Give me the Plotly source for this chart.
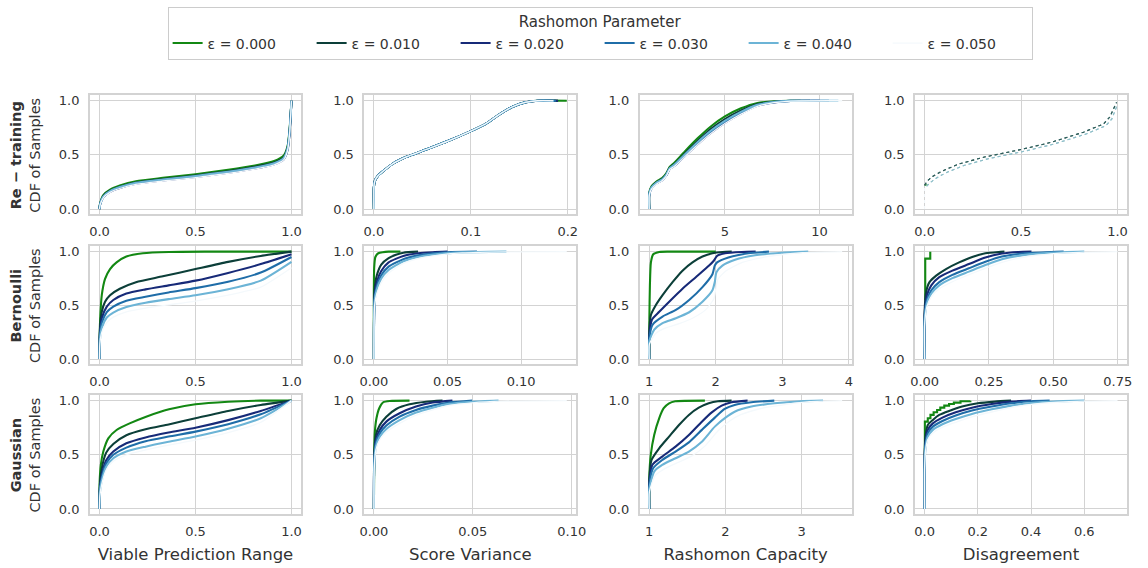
import plotly.graph_objects as go

EPS_LABELS = ["ε = 0.000", "ε = 0.010", "ε = 0.020", "ε = 0.030", "ε = 0.040", "ε = 0.050"]
ROW_NAMES = ["Re − training", "Bernoulli", "Gaussian"]
COL_NAMES = ["Viable Prediction Range", "Score Variance", "Rashomon Capacity", "Disagreement"]

# ---------------- Re-training ----------------
RT_VPR_X = [
    [0, 0.003, 0.02, 0.055, 0.106, 0.19, 0.33, 0.5, 0.67, 0.81, 0.91, 0.96, 0.98, 0.99, 1.0],
] * 6
RT_VPR_Y = [
    [0, 0.05, 0.13, 0.18, 0.217, 0.257, 0.288, 0.322, 0.362, 0.402, 0.443, 0.495, 0.585, 0.735, 1.0],
    [0, 0.046, 0.12, 0.17, 0.206, 0.246, 0.277, 0.31, 0.35, 0.39, 0.43, 0.48, 0.57, 0.72, 1.0],
    [0, 0.04, 0.11, 0.16, 0.195, 0.233, 0.264, 0.296, 0.335, 0.374, 0.413, 0.46, 0.548, 0.698, 1.0],
    [0, 0.042, 0.113, 0.163, 0.199, 0.238, 0.269, 0.301, 0.34, 0.379, 0.419, 0.467, 0.555, 0.705, 1.0],
    [0, 0.044, 0.116, 0.166, 0.203, 0.242, 0.273, 0.306, 0.345, 0.384, 0.424, 0.473, 0.562, 0.712, 1.0],
    [0, 0.037, 0.104, 0.154, 0.19, 0.228, 0.259, 0.291, 0.33, 0.369, 0.408, 0.455, 0.543, 0.693, 1.0],
]
RT_SV_X = [
    [0, 0.0, 0.001, 0.0044, 0.0095, 0.0197, 0.033, 0.054, 0.077, 0.1, 0.115, 0.128, 0.142, 0.156, 0.169, 0.199],
    [0, 0.0, 0.001, 0.0044, 0.0095, 0.0197, 0.033, 0.054, 0.077, 0.1, 0.115, 0.128, 0.142, 0.156, 0.169, 0.19],
    [0, 0.0, 0.001, 0.0044, 0.0095, 0.0197, 0.033, 0.054, 0.077, 0.1, 0.115, 0.128, 0.142, 0.156, 0.169, 0.19],
    [0, 0.0, 0.001, 0.0044, 0.0095, 0.0197, 0.033, 0.054, 0.077, 0.1, 0.115, 0.128, 0.142, 0.156, 0.169, 0.188],
    [0, 0.0, 0.001, 0.0044, 0.0095, 0.0197, 0.033, 0.054, 0.077, 0.1, 0.115, 0.128, 0.142, 0.156, 0.169, 0.186],
    [0, 0.0, 0.001, 0.0044, 0.0095, 0.0197, 0.033, 0.054, 0.077, 0.1, 0.115, 0.128, 0.142, 0.156, 0.169, 0.185],
]
RT_SV_Y = [
    [0, 0.2, 0.26, 0.31, 0.35, 0.42, 0.48, 0.55, 0.63, 0.72, 0.785, 0.865, 0.94, 0.985, 1.0, 1.0],
] * 6
RT_RC_X = [
    [1.0, 1.0, 1.12, 1.38, 1.68, 1.9, 2.08, 2.34, 2.87, 3.57, 4.27, 5.0, 5.85, 6.72, 7.6, 8.47, 9.0],
    [1.0, 1.0, 1.12, 1.38, 1.68, 1.9, 2.08, 2.34, 2.87, 3.57, 4.27, 5.0, 5.85, 6.72, 7.6, 8.47, 9.5],
    [1.0, 1.0, 1.12, 1.38, 1.68, 1.9, 2.08, 2.34, 2.87, 3.57, 4.27, 5.0, 5.85, 6.72, 7.6, 8.47, 10.0],
    [1.0, 1.0, 1.12, 1.38, 1.68, 1.9, 2.08, 2.34, 2.87, 3.57, 4.27, 5.0, 5.85, 6.72, 7.6, 8.47, 10.5],
    [1.0, 1.0, 1.12, 1.38, 1.68, 1.9, 2.08, 2.34, 2.87, 3.57, 4.27, 5.0, 5.85, 6.72, 7.6, 8.47, 11.0],
    [1.0, 1.0, 1.12, 1.38, 1.68, 1.9, 2.08, 2.34, 2.87, 3.57, 4.27, 5.0, 5.85, 6.72, 7.6, 8.47, 11.2],
]
RT_RC_Y = [
    [0, 0.15, 0.21, 0.255, 0.287, 0.33, 0.39, 0.43, 0.53, 0.655, 0.765, 0.855, 0.93, 0.98, 0.995, 1.0, 1.0],
    [0, 0.14, 0.2, 0.246, 0.277, 0.32, 0.38, 0.415, 0.51, 0.63, 0.74, 0.83, 0.91, 0.97, 0.99, 1.0, 1.0],
    [0, 0.13, 0.19, 0.236, 0.267, 0.31, 0.37, 0.40, 0.488, 0.602, 0.706, 0.796, 0.882, 0.953, 0.984, 0.998, 1.0],
    [0, 0.135, 0.195, 0.24, 0.27, 0.313, 0.373, 0.405, 0.495, 0.612, 0.717, 0.807, 0.89, 0.958, 0.987, 0.999, 1.0],
    [0, 0.138, 0.198, 0.243, 0.273, 0.316, 0.376, 0.41, 0.502, 0.62, 0.725, 0.815, 0.897, 0.962, 0.988, 0.999, 1.0],
    [0, 0.125, 0.185, 0.23, 0.262, 0.305, 0.365, 0.395, 0.482, 0.596, 0.7, 0.79, 0.876, 0.949, 0.982, 0.997, 1.0],
]
RT_DIS_X = [
    [0, 0.02],
    [0, 0.014, 0.04, 0.09, 0.176, 0.31, 0.5, 0.654, 0.824, 0.927, 0.96, 0.995],
    [0, 0.014, 0.04, 0.09, 0.176, 0.31, 0.5, 0.654, 0.824, 0.927, 0.96, 0.995],
    [0.01, 0.03, 0.06, 0.11, 0.2, 0.33, 0.52, 0.67, 0.84, 0.94, 0.97, 1.0],
    [0.01, 0.03, 0.06, 0.11, 0.2, 0.33, 0.52, 0.67, 0.84, 0.94, 0.97, 1.0],
    [0, 0, 0.01],
]
RT_DIS_Y = [
    [0.22, 0.225],
    [0.22, 0.26, 0.30, 0.35, 0.415, 0.48, 0.55, 0.615, 0.71, 0.785, 0.85, 0.985],
    [0.22, 0.26, 0.30, 0.35, 0.415, 0.48, 0.55, 0.615, 0.71, 0.785, 0.85, 0.985],
    [0.21, 0.245, 0.285, 0.335, 0.40, 0.465, 0.535, 0.6, 0.695, 0.77, 0.83, 0.965],
    [0.21, 0.245, 0.285, 0.335, 0.40, 0.465, 0.535, 0.6, 0.695, 0.77, 0.83, 0.965],
    [0, 0.21, 0.21],
]

# ---------------- Bernoulli ----------------
BE_VPR_X = [
    [0, 0.001, 0.003, 0.012, 0.029, 0.055, 0.089, 0.14, 0.226, 0.362, 0.55, 1.0],
    [0, 0.002, 0.012, 0.029, 0.055, 0.106, 0.19, 0.33, 0.5, 0.67, 0.84, 1.0],
    [0, 0.002, 0.012, 0.038, 0.072, 0.14, 0.24, 0.36, 0.5, 0.67, 0.84, 1.0],
    [0, 0.002, 0.012, 0.038, 0.072, 0.14, 0.24, 0.36, 0.5, 0.67, 0.84, 1.0],
    [0, 0.002, 0.012, 0.038, 0.072, 0.14, 0.24, 0.36, 0.5, 0.67, 0.84, 1.0],
    [0, 0.002, 0.012, 0.038, 0.072, 0.14, 0.24, 0.36, 0.5, 0.67, 0.84, 1.0],
]
BE_VPR_Y = [
    [0, 0.2, 0.35, 0.595, 0.747, 0.838, 0.9, 0.954, 0.985, 0.997, 1.0, 1.0],
    [0, 0.26, 0.44, 0.534, 0.595, 0.655, 0.716, 0.77, 0.838, 0.905, 0.96, 1.0],
    [0, 0.23, 0.38, 0.488, 0.55, 0.61, 0.649, 0.686, 0.73, 0.802, 0.884, 0.976],
    [0, 0.2, 0.335, 0.436, 0.488, 0.543, 0.58, 0.62, 0.66, 0.72, 0.805, 0.95],
    [0, 0.17, 0.29, 0.387, 0.433, 0.485, 0.524, 0.558, 0.594, 0.65, 0.73, 0.905],
    [0, 0.14, 0.25, 0.34, 0.39, 0.44, 0.475, 0.505, 0.54, 0.595, 0.67, 0.85],
]
BE_SV_X = [
    [0, 0.0002, 0.001, 0.003, 0.006, 0.01, 0.018],
    [0, 0.0005, 0.002, 0.005, 0.01, 0.015, 0.02, 0.03],
    [0, 0.0005, 0.002, 0.005, 0.01, 0.02, 0.03, 0.04, 0.05],
    [0, 0.0005, 0.002, 0.005, 0.01, 0.02, 0.03, 0.04, 0.05, 0.07],
    [0, 0.0005, 0.002, 0.005, 0.01, 0.02, 0.03, 0.045, 0.06, 0.09],
    [0, 0.0005, 0.002, 0.005, 0.01, 0.02, 0.03, 0.045, 0.06, 0.09, 0.131],
]
BE_SV_Y = [
    [0, 0.85, 0.95, 0.985, 0.995, 1.0, 1.0],
    [0, 0.65, 0.78, 0.88, 0.94, 0.97, 0.99, 1.0],
    [0, 0.6, 0.72, 0.82, 0.9, 0.96, 0.985, 0.995, 1.0],
    [0, 0.57, 0.68, 0.78, 0.86, 0.93, 0.965, 0.985, 0.995, 1.0],
    [0, 0.54, 0.65, 0.75, 0.83, 0.91, 0.95, 0.98, 0.993, 1.0],
    [0, 0.5, 0.61, 0.71, 0.8, 0.89, 0.935, 0.97, 0.988, 0.998, 1.0],
]
BE_RC_X = [
    [1.0, 1.002, 1.01, 1.025, 1.06, 1.15, 1.3, 2.0],
    [1.0, 1.003, 1.025, 1.1, 1.2, 1.35, 1.5, 1.65, 1.8, 1.95, 2.1, 2.24],
    [1.0, 1.003, 1.04, 1.15, 1.3, 1.5, 1.7, 1.9, 1.97, 2.02, 2.14, 2.39, 2.6],
    [1.0, 1.003, 1.05, 1.2, 1.4, 1.6, 1.8, 1.95, 1.985, 2.02, 2.19, 2.49, 2.8],
    [1.0, 1.003, 1.075, 1.2, 1.4, 1.6, 1.8, 1.95, 1.985, 2.01, 2.1, 2.29, 2.59, 2.99, 3.39],
    [1.0, 1.003, 1.1, 1.25, 1.45, 1.65, 1.85, 1.97, 2.0, 2.03, 2.15, 2.4, 2.8, 3.3, 3.9],
]
BE_RC_Y = [
    [0, 0.38, 0.686, 0.9, 0.976, 0.997, 1.0, 1.0],
    [0, 0.29, 0.41, 0.503, 0.595, 0.716, 0.823, 0.9, 0.954, 0.985, 0.997, 1.0],
    [0, 0.23, 0.366, 0.44, 0.534, 0.655, 0.762, 0.87, 0.915, 0.96, 0.985, 0.997, 1.0],
    [0, 0.2, 0.32, 0.396, 0.457, 0.55, 0.67, 0.79, 0.87, 0.9, 0.945, 0.985, 1.0],
    [0, 0.17, 0.274, 0.335, 0.38, 0.436, 0.534, 0.64, 0.716, 0.808, 0.87, 0.924, 0.966, 0.99, 1.0],
    [0, 0.14, 0.24, 0.29, 0.33, 0.38, 0.46, 0.56, 0.65, 0.74, 0.82, 0.9, 0.955, 0.99, 1.0],
]
BE_DIS_X = [
    [0.0025, 0.0025, 0.022, 0.022],
    [0, 0, 0.006, 0.019, 0.045, 0.083, 0.134, 0.185, 0.236, 0.287, 0.31],
    [0, 0, 0.009, 0.026, 0.057, 0.108, 0.172, 0.236, 0.3, 0.364, 0.415],
    [0, 0, 0.009, 0.026, 0.057, 0.108, 0.172, 0.236, 0.3, 0.389, 0.491, 0.54],
    [0, 0, 0.009, 0.026, 0.057, 0.108, 0.172, 0.236, 0.3, 0.389, 0.491, 0.62],
    [0, 0, 0.009, 0.026, 0.057, 0.108, 0.172, 0.236, 0.3, 0.389, 0.491, 0.62, 0.749],
]
BE_DIS_Y = [
    [0.55, 0.935, 0.935, 1.0],
    [0, 0.44, 0.625, 0.716, 0.777, 0.838, 0.9, 0.951, 0.985, 0.997, 1.0],
    [0, 0.41, 0.595, 0.686, 0.762, 0.823, 0.884, 0.945, 0.982, 0.997, 1.0],
    [0, 0.38, 0.55, 0.64, 0.716, 0.784, 0.845, 0.905, 0.954, 0.985, 0.997, 1.0],
    [0, 0.35, 0.52, 0.61, 0.686, 0.753, 0.814, 0.875, 0.93, 0.97, 0.99, 1.0],
    [0, 0.32, 0.49, 0.58, 0.655, 0.72, 0.785, 0.845, 0.9, 0.95, 0.98, 0.995, 1.0],
]

# ---------------- Gaussian ----------------
GA_VPR_X = [
    [0, 0.001, 0.007, 0.02, 0.046, 0.089, 0.157, 0.243, 0.362, 0.5, 0.67, 0.84, 1.0],
    [0, 0.002, 0.012, 0.035, 0.072, 0.14, 0.24, 0.36, 0.5, 0.67, 0.84, 1.0],
    [0, 0.002, 0.012, 0.035, 0.072, 0.14, 0.24, 0.36, 0.5, 0.67, 0.84, 1.0],
    [0, 0.002, 0.012, 0.035, 0.072, 0.14, 0.24, 0.36, 0.5, 0.67, 0.84, 1.0],
    [0, 0.002, 0.012, 0.035, 0.072, 0.14, 0.24, 0.36, 0.5, 0.67, 0.84, 1.0],
    [0, 0.002, 0.012, 0.035, 0.072, 0.14, 0.24, 0.36, 0.5, 0.67, 0.84, 1.0],
]
GA_VPR_Y = [
    [0, 0.25, 0.406, 0.53, 0.652, 0.729, 0.79, 0.852, 0.92, 0.966, 0.99, 1.0, 1.0],
    [0, 0.22, 0.375, 0.52, 0.60, 0.68, 0.735, 0.78, 0.837, 0.905, 0.96, 1.0],
    [0, 0.19, 0.314, 0.45, 0.53, 0.606, 0.66, 0.705, 0.75, 0.82, 0.905, 1.0],
    [0, 0.175, 0.29, 0.42, 0.5, 0.566, 0.625, 0.668, 0.714, 0.782, 0.874, 1.0],
    [0, 0.145, 0.26, 0.39, 0.468, 0.53, 0.575, 0.62, 0.668, 0.74, 0.837, 1.0],
    [0, 0.12, 0.23, 0.36, 0.44, 0.5, 0.545, 0.59, 0.635, 0.705, 0.8, 1.0],
]
GA_SV_X = [
    [0, 0.0002, 0.0005, 0.0013, 0.0027, 0.0047, 0.008, 0.018],
    [0, 0.0002, 0.001, 0.003, 0.0063, 0.0113, 0.018, 0.0263, 0.0347],
    [0, 0.0002, 0.001, 0.003, 0.0063, 0.013, 0.0213, 0.0297, 0.0397],
    [0, 0.0002, 0.001, 0.003, 0.0063, 0.013, 0.0213, 0.0297, 0.038, 0.0497],
    [0, 0.0002, 0.001, 0.003, 0.0063, 0.013, 0.0213, 0.0297, 0.038, 0.0497, 0.063],
    [0, 0.0002, 0.001, 0.003, 0.0063, 0.013, 0.0213, 0.0297, 0.038, 0.0497, 0.065, 0.0975],
]
GA_SV_Y = [
    [0, 0.55, 0.714, 0.837, 0.93, 0.985, 0.997, 1.0],
    [0, 0.5, 0.683, 0.775, 0.852, 0.923, 0.966, 0.99, 1.0],
    [0, 0.47, 0.637, 0.73, 0.806, 0.883, 0.945, 0.982, 1.0],
    [0, 0.44, 0.606, 0.698, 0.77, 0.852, 0.914, 0.954, 0.982, 1.0],
    [0, 0.41, 0.575, 0.668, 0.738, 0.82, 0.89, 0.935, 0.97, 0.99, 1.0],
    [0, 0.38, 0.545, 0.64, 0.71, 0.79, 0.865, 0.915, 0.955, 0.98, 0.995, 1.0],
]
GA_RC_X = [
    [1.0, 1.002, 1.02, 1.065, 1.13, 1.19, 1.26, 1.34, 1.73],
    [1.0, 1.002, 1.03, 1.13, 1.26, 1.39, 1.52, 1.65, 1.78, 1.9, 2.08],
    [1.0, 1.002, 1.04, 1.17, 1.345, 1.52, 1.69, 1.82, 1.95, 2.08, 2.29],
    [1.0, 1.002, 1.05, 1.17, 1.345, 1.52, 1.69, 1.86, 1.99, 2.12, 2.34, 2.64],
    [1.0, 1.002, 1.065, 1.17, 1.345, 1.52, 1.69, 1.86, 2.0, 2.12, 2.34, 2.64, 2.98, 3.28],
    [1.0, 1.002, 1.08, 1.2, 1.38, 1.56, 1.73, 1.9, 2.05, 2.2, 2.45, 2.8, 3.1, 3.53],
]
GA_RC_Y = [
    [0, 0.314, 0.5, 0.683, 0.837, 0.93, 0.975, 0.994, 1.0],
    [0, 0.283, 0.452, 0.56, 0.668, 0.775, 0.868, 0.935, 0.975, 0.994, 1.0],
    [0, 0.25, 0.406, 0.483, 0.575, 0.683, 0.806, 0.892, 0.954, 0.985, 1.0],
    [0, 0.22, 0.375, 0.452, 0.53, 0.615, 0.73, 0.843, 0.923, 0.96, 0.985, 1.0],
    [0, 0.19, 0.345, 0.406, 0.468, 0.53, 0.62, 0.76, 0.843, 0.898, 0.945, 0.975, 0.994, 1.0],
    [0, 0.16, 0.31, 0.37, 0.43, 0.49, 0.58, 0.72, 0.81, 0.87, 0.925, 0.965, 0.99, 1.0],
]
GA_DIS_X = [
    [0.001, 0.001, 0.012, 0.022, 0.034, 0.047, 0.059, 0.074, 0.092, 0.11, 0.135, 0.172],
    [0, 0, 0.004, 0.012, 0.031, 0.055, 0.092, 0.141, 0.2, 0.264, 0.325],
    [0, 0, 0.004, 0.012, 0.031, 0.067, 0.117, 0.178, 0.252, 0.325, 0.4],
    [0, 0, 0.004, 0.012, 0.031, 0.067, 0.117, 0.178, 0.252, 0.325, 0.399, 0.47],
    [0, 0, 0.004, 0.012, 0.031, 0.067, 0.117, 0.178, 0.252, 0.325, 0.399, 0.497, 0.6],
    [0, 0, 0.004, 0.012, 0.031, 0.067, 0.117, 0.178, 0.252, 0.325, 0.4, 0.5, 0.6, 0.725],
]
GA_DIS_Y = [
    [0.5, 0.806, 0.837, 0.868, 0.892, 0.914, 0.935, 0.954, 0.969, 0.982, 0.994, 1.0],
    [0, 0.5, 0.683, 0.775, 0.822, 0.868, 0.905, 0.945, 0.975, 0.991, 1.0],
    [0, 0.468, 0.637, 0.73, 0.79, 0.843, 0.892, 0.935, 0.969, 0.991, 1.0],
    [0, 0.437, 0.606, 0.698, 0.76, 0.812, 0.862, 0.908, 0.945, 0.975, 0.994, 1.0],
    [0, 0.406, 0.575, 0.668, 0.73, 0.782, 0.83, 0.877, 0.92, 0.954, 0.978, 0.994, 1.0],
    [0, 0.375, 0.545, 0.64, 0.7, 0.755, 0.8, 0.85, 0.895, 0.935, 0.965, 0.985, 0.995, 1.0],
]

# tick values per panel (row, col)
TICKS = {
    (0, 0): [0.0, 0.5, 1.0], (0, 1): [0.0, 0.1, 0.2], (0, 2): [5, 10], (0, 3): [0.0, 0.5, 1.0],
    (1, 0): [0.0, 0.5, 1.0], (1, 1): [0.0, 0.05, 0.10], (1, 2): [1, 2, 3, 4], (1, 3): [0.0, 0.25, 0.5, 0.75],
    (2, 0): [0.0, 0.5, 1.0], (2, 1): [0.0, 0.05, 0.10], (2, 2): [1, 2, 3], (2, 3): [0.0, 0.2, 0.4, 0.6],
}
TICKFMT = {
    (0, 0): ".1f", (0, 1): ".1f", (0, 2): "d", (0, 3): ".1f",
    (1, 0): ".1f", (1, 1): ".2f", (1, 2): "d", (1, 3): ".2f",
    (2, 0): ".1f", (2, 1): ".2f", (2, 2): "d", (2, 3): ".1f",
}
Y_TICKS = [0.0, 0.5, 1.0]

PANELS = [
    [(RT_VPR_X, RT_VPR_Y), (RT_SV_X, RT_SV_Y), (RT_RC_X, RT_RC_Y), (RT_DIS_X, RT_DIS_Y)],
    [(BE_VPR_X, BE_VPR_Y), (BE_SV_X, BE_SV_Y), (BE_RC_X, BE_RC_Y), (BE_DIS_X, BE_DIS_Y)],
    [(GA_VPR_X, GA_VPR_Y), (GA_SV_X, GA_SV_Y), (GA_RC_X, GA_RC_Y), (GA_DIS_X, GA_DIS_Y)],
]

COLORS = ["#138813", "#0c3f39", "#172a78", "#1f6da8", "#6cb4d6", "#f4f9fc"]
DOT_COLORS = ["#138813", "#2f5f5c", "#2f5f5c", "#8fbfc9", "#8fbfc9", "#f4f9fc"]
W, H = 1148, 568
COL_PX = [(86, 300), (364, 579), (643, 858), (922, 1137)]
ROW_PX = [(94, 214), (246, 365), (396, 516)]
GRID = "#d3d3d3"
TXT = "#333333"
FONT = "DejaVu Sans"

fig = go.Figure()

for r in range(3):
    for c in range(4):
        idx = r * 4 + c + 1
        xa = "x" if idx == 1 else f"x{idx}"
        ya = "y" if idx == 1 else f"y{idx}"
        X, Y = PANELS[r][c]
        for k in range(6):
            dotted = (r == 0 and c == 3)
            stepped = (k == 0 and c == 3 and r > 0)
            if dotted:
                line = dict(color=DOT_COLORS[k], width=1.1, dash="dot")
            else:
                line = dict(color=COLORS[k], width=(1.3 if k == 5 else 2.1),
                            shape="hv" if stepped else "spline",
                            smoothing=0 if stepped else 0.6)
            fig.add_trace(go.Scatter(
                x=X[k], y=Y[k], mode="lines", name=EPS_LABELS[k],
                legendgroup=EPS_LABELS[k], showlegend=(idx == 1),
                line=line, xaxis=xa, yaxis=ya, hoverinfo="skip",
            ))
        allx = [v for s in X for v in s]
        lo, hi = min(allx), max(allx)
        pad = 0.05 * (hi - lo)
        ticks = TICKS[(r, c)]
        fmt = TICKFMT[(r, c)]
        ticktext = [format(t, fmt) if fmt != "d" else str(int(t)) for t in ticks]
        x0, x1 = COL_PX[c]
        yt, yb = ROW_PX[r]
        xkey = "xaxis" if idx == 1 else f"xaxis{idx}"
        ykey = "yaxis" if idx == 1 else f"yaxis{idx}"
        fig.layout[xkey] = dict(
            domain=[x0 / W, x1 / W], anchor=ya, range=[lo - pad, hi + pad],
            tickvals=ticks, ticktext=ticktext, showgrid=True, gridcolor=GRID, gridwidth=1,
            showline=True, linecolor=GRID, linewidth=1.5, mirror=True, zeroline=False,
            ticks="", ticklabelstandoff=4,
            tickfont=dict(family=FONT, size=13, color=TXT),
            title=dict(text=COL_NAMES[c] if r == 2 else "", font=dict(family=FONT, size=16.5, color=TXT), standoff=11),
        )
        fig.layout[ykey] = dict(
            domain=[1 - yb / H, 1 - yt / H], anchor=xa, range=[-0.05, 1.05],
            tickvals=Y_TICKS, ticktext=["0.0", "0.5", "1.0"], showgrid=True, gridcolor=GRID, gridwidth=1,
            showline=True, linecolor=GRID, linewidth=1.5, mirror=True, zeroline=False,
            ticks="", ticklabelstandoff=6,
            tickfont=dict(family=FONT, size=13, color=TXT),
        )

for r in range(3):
    yt, yb = ROW_PX[r]
    fig.add_annotation(
        x=21 / W, y=1 - (yt + yb) / 2 / H, xref="paper", yref="paper",
        text=f"<b>{ROW_NAMES[r]}</b><br>CDF of Samples", textangle=-90, showarrow=False,
        font=dict(family=FONT, size=14.5, color=TXT), xanchor="center", yanchor="middle",
    )

fig.update_layout(
    width=W, height=H, margin=dict(l=0, r=0, t=0, b=0),
    paper_bgcolor="white", plot_bgcolor="white",
    font=dict(family=FONT, color=TXT),
    legend=dict(
        orientation="h", x=603 / W, y=1 - 5 / H, xanchor="center", yanchor="top",
        bordercolor="#cccccc", borderwidth=1, bgcolor="white",
        title=dict(text="Rashomon Parameter", side="top center", font=dict(family=FONT, size=15, color=TXT)),
        font=dict(family=FONT, size=14, color=TXT),
        itemwidth=30, entrywidth=99, entrywidthmode="pixels",
    ),
)

fig.write_html("out.html")
